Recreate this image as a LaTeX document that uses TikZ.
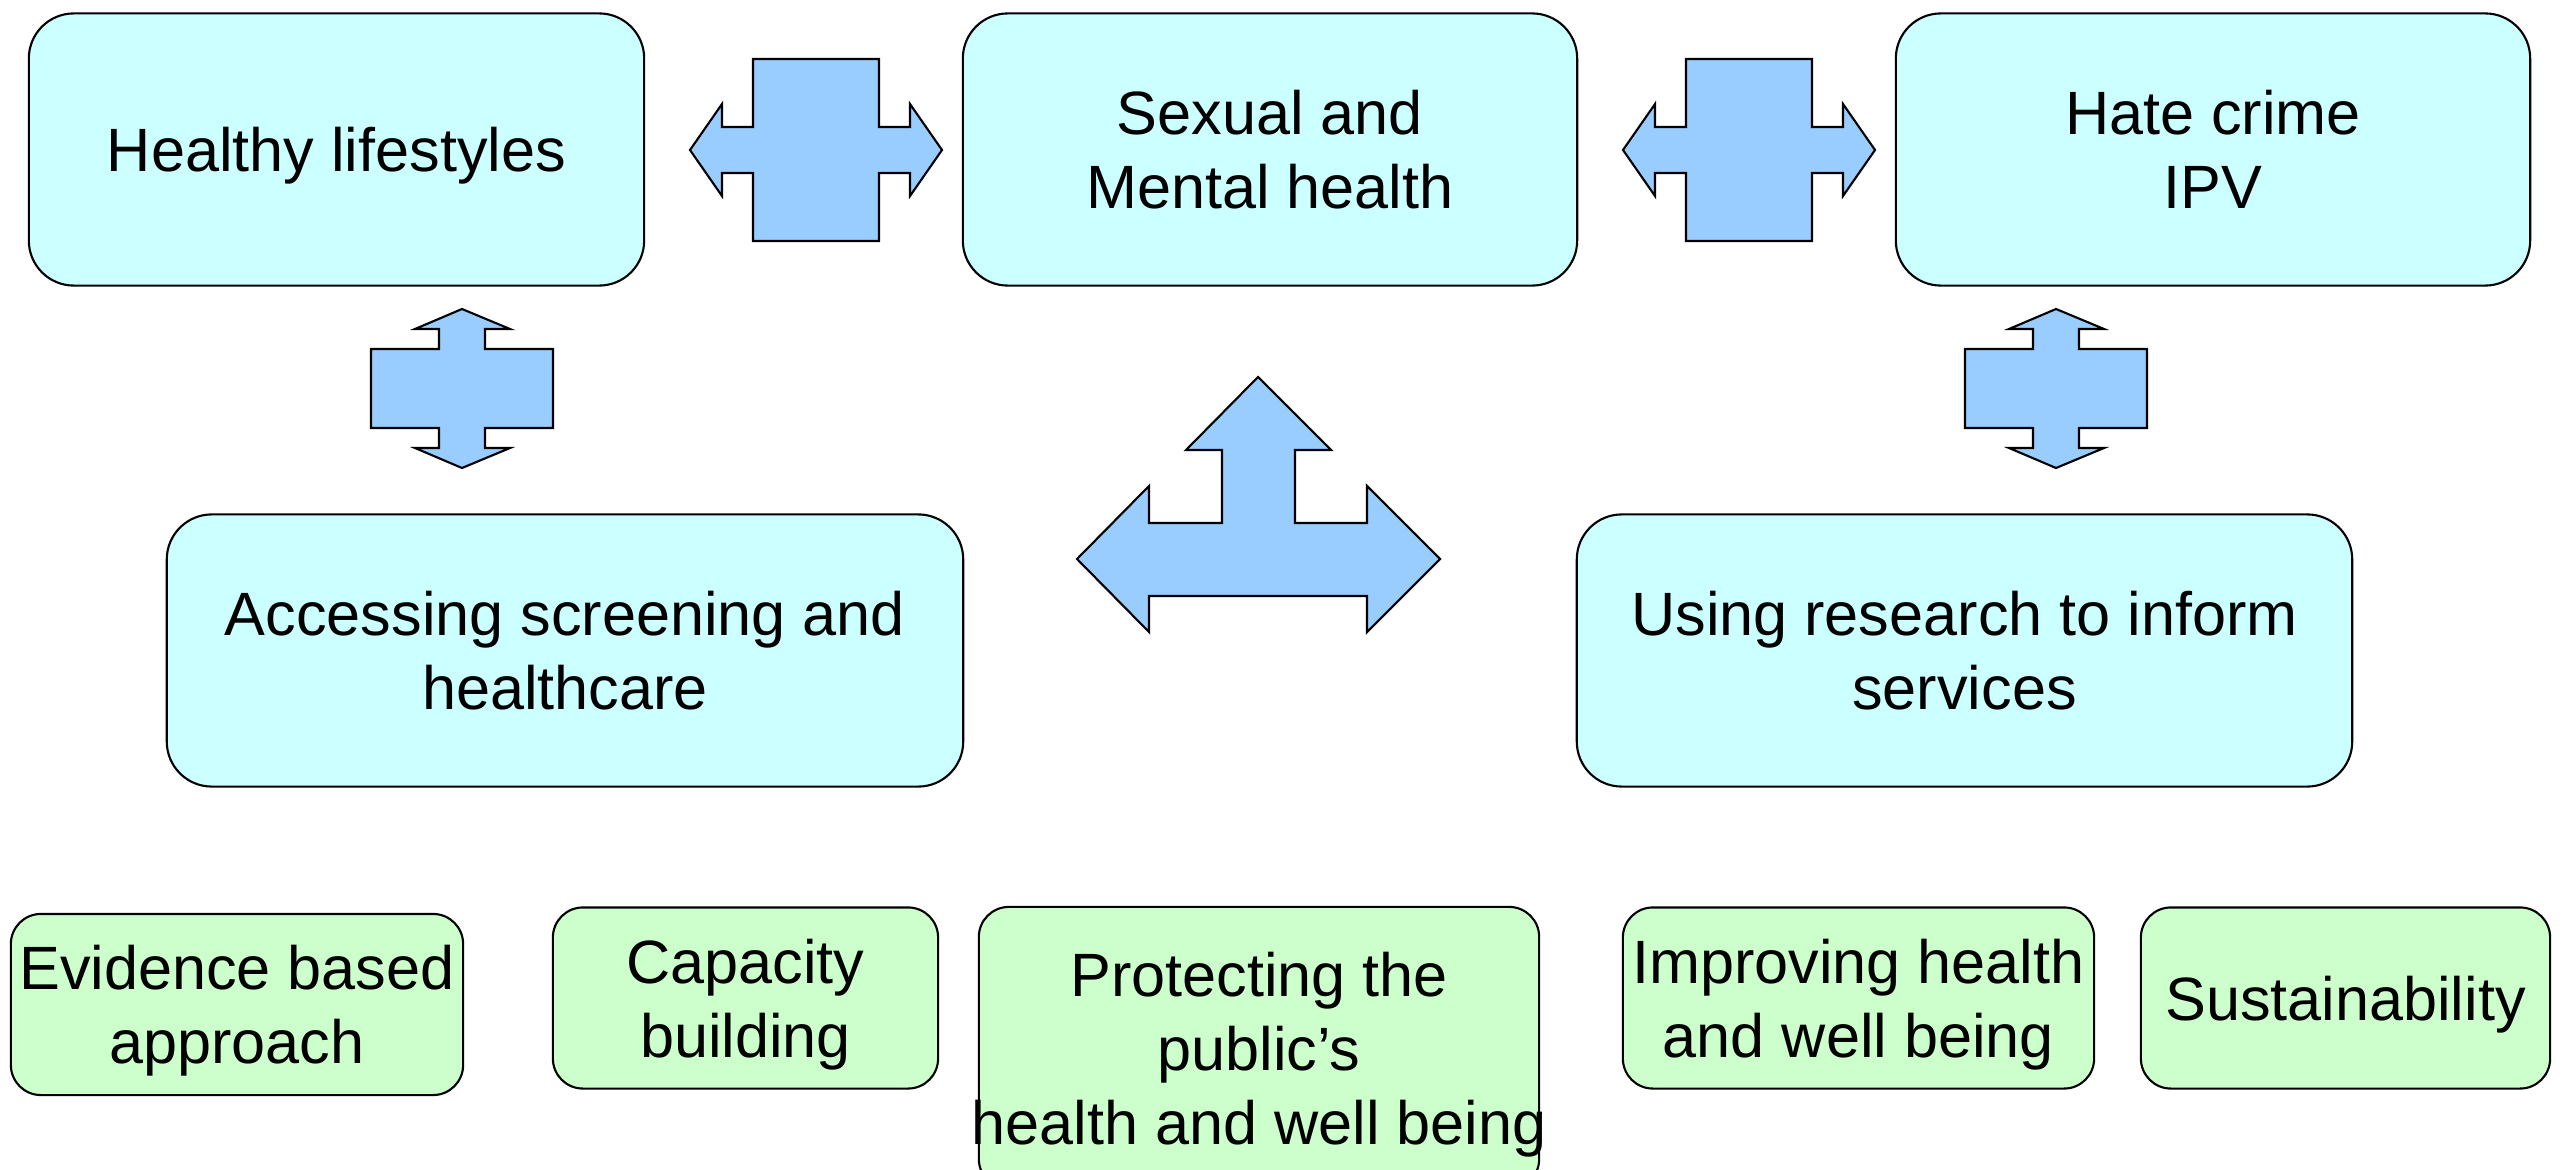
\documentclass[tikz,border=0pt]{standalone}
\usepackage{fontspec}
\setmainfont{Liberation Sans}
\usepackage{tikz}

\definecolor{boxcyan}{HTML}{CCFFFF}
\definecolor{boxgreen}{HTML}{CCFFCC}
\definecolor{arrowblue}{HTML}{99CCFF}

\begin{document}
\begin{tikzpicture}
[x=0.01cm, y=-0.01cm,
 bigbox/.style={rectangle, rounded corners=0.45cm, draw=black, line width=0.6pt, fill=boxcyan,
   minimum height=2.72cm, inner sep=0pt, align=center, font=\fontsize{17.4}{21}\selectfont},
 smallbox/.style={rectangle, rounded corners=0.3cm, draw=black, line width=0.6pt, fill=boxgreen,
   minimum height=1.81cm, inner sep=0pt, align=center, text depth=-1pt,
   font=\fontsize{17.4}{21}\selectfont},
 blockarrow/.style={draw=black, line width=0.6pt, fill=arrowblue}]
\useasboundingbox (0,0) rectangle (2563,1170);
\clip (0,0) rectangle (2563,1170);
% top row
\node[bigbox, minimum width=6.15cm, text depth=-1pt] (hl) at (336.5,149.5) {Healthy lifestyles};
\node[bigbox, minimum width=6.14cm] (smh) at (1270,149.5) {Sexual and\\Mental health};
\node[bigbox, minimum width=6.34cm] (hate) at (2213,149.5) {Hate crime\\IPV};
% middle row
\node[bigbox, minimum width=7.96cm] (access) at (565,650.5) {Accessing screening and\\healthcare};
\node[bigbox, minimum width=7.75cm] (research) at (1964.5,650.5) {Using research to inform\\services};
% bottom row
\node[smallbox, minimum width=4.52cm] (evid) at (237,1004.5) {Evidence based\\approach};
\node[smallbox, minimum width=3.85cm] (capac) at (745.5,998) {Capacity\\building};
\node[smallbox, minimum width=5.6cm, minimum height=2.82cm] (protect) at (1259,1048)
  {Protecting the\\public’s\\\makebox[0pt]{health and well being}};
\node[smallbox, minimum width=4.71cm] (improve) at (1858.5,998) {Improving health\\and well being};
\node[smallbox, minimum width=4.09cm] (sustain) at (2345.5,998) {Sustainability};
% horizontal block arrows
\foreach \dx in {0,933}
  \draw[blockarrow, shift={(\dx,0)}] (690,150) -- (722,104) -- (722,127) -- (753,127) -- (753,59)
    -- (879,59) -- (879,127) -- (910,127) -- (910,104) -- (942,150) -- (910,196) -- (910,173)
    -- (879,173) -- (879,241) -- (753,241) -- (753,173) -- (722,173) -- (722,196) -- cycle;
% vertical block arrows
\foreach \dx in {0,1594}
  \draw[blockarrow, shift={(\dx,0)}] (462,309) -- (510,329) -- (485,329) -- (485,349) -- (553,349)
    -- (553,428) -- (485,428) -- (485,448) -- (510,448) -- (462,468) -- (415,448) -- (439,448)
    -- (439,428) -- (371,428) -- (371,349) -- (439,349) -- (439,329) -- (415,329) -- cycle;
% three way arrow
\draw[blockarrow] (1258,377) -- (1331,450) -- (1295,450) -- (1295,523) -- (1367,523) -- (1367,486)
  -- (1440,559) -- (1367,632) -- (1367,596) -- (1149,596) -- (1149,632) -- (1077,559) -- (1149,486)
  -- (1149,523) -- (1222,523) -- (1222,450) -- (1186,450) -- cycle;
\end{tikzpicture}
\end{document}
